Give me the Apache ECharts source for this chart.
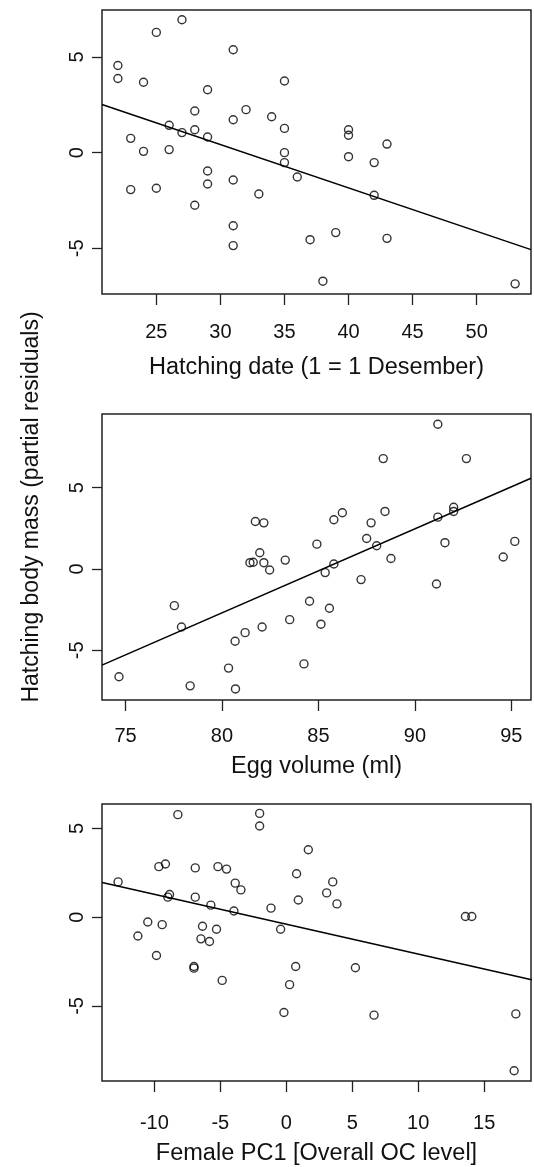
<!DOCTYPE html>
<html><head><meta charset="utf-8">
<script src="https://cdn.jsdelivr.net/npm/echarts@6/dist/echarts.min.js"></script>
<style>html,body{margin:0;padding:0;background:#fff}#c{width:534px;height:1167px}</style>
</head><body><div id="c"></div>
<script>
// Panel 1: hatching date
const dateX = [22,22,25,27,31,24,35,29,28,32,34,31,26,27,28,29,35,40,40,23,24,26,35,35,40,43,42,29,29,31,36,23,25,33,42,28,31,31,37,39,43,38,53];
const dateY = [4.56,3.88,6.29,6.95,5.38,3.68,3.75,3.29,2.18,2.25,1.88,1.72,1.43,1.05,1.2,0.82,1.27,1.2,0.91,0.75,0.07,0.16,0.0,-0.52,-0.21,0.45,-0.52,-0.96,-1.64,-1.43,-1.27,-1.93,-1.86,-2.16,-2.23,-2.75,-3.82,-4.86,-4.55,-4.18,-4.48,-6.72,-6.86];
const dateLineX = [20.76, 54.24];
const dateLineY = [2.52, -5.07];
const dateTicks = [25,30,35,40,45,50];

// Panel 2: egg volume
const eggX = [91.19,88.36,92.67,81.73,82.17,85.8,86.24,87.73,88.45,91.19,92.01,92.01,84.92,87.5,88.02,91.56,95.18,94.58,88.76,81.96,81.45,81.62,82.17,83.28,82.47,85.8,85.35,87.21,91.12,84.54,85.57,77.53,77.9,82.08,83.51,85.13,81.2,80.68,80.34,84.25,74.66,78.35,80.7];
const eggY = [8.9,6.79,6.79,2.92,2.84,3.03,3.46,2.84,3.54,3.19,3.8,3.54,1.53,1.88,1.43,1.62,1.7,0.74,0.65,1.0,0.39,0.42,0.39,0.55,-0.06,0.31,-0.22,-0.65,-0.92,-1.98,-2.41,-2.25,-3.56,-3.56,-3.11,-3.39,-3.91,-4.44,-6.09,-5.83,-6.62,-7.18,-7.37];
const eggLineX = [73.78, 96.02];
const eggLineY = [-5.91, 5.58];
const eggTicks = [75,80,85,90,95];

// Panel 3: female PC1
const pcX = [-12.75,-8.22,-2.02,-2.02,1.67,-9.66,-9.16,-6.9,-5.18,-4.53,0.78,-3.87,-3.44,3.52,3.06,3.84,0.91,-8.85,-8.98,-6.9,-5.72,-3.97,-1.16,13.58,14.06,-10.5,-9.41,-6.35,-5.29,-0.43,-11.25,-6.47,-5.82,-9.84,-7.0,-7.0,0.71,5.24,-4.86,0.25,-0.18,6.65,17.4,17.27];
const pcY = [1.99,5.78,5.85,5.14,3.8,2.85,3.0,2.78,2.85,2.71,2.45,1.92,1.54,1.99,1.37,0.75,0.97,1.28,1.13,1.13,0.68,0.35,0.51,0.04,0.04,-0.27,-0.42,-0.51,-0.68,-0.68,-1.06,-1.22,-1.37,-2.16,-2.78,-2.87,-2.78,-2.85,-3.56,-3.8,-5.37,-5.52,-5.45,-8.65];
const pcLineX = [-13.96, 18.6];
const pcLineY = [1.96, -3.53];
const pcTicks = [-10,-5,0,5,10,15];

const yTicks = [-5,0,5];

const FONT = "'Liberation Sans', Arial, Helvetica, sans-serif";
const zip = (a,b) => a.map((v,i)=>[v,b[i]]);

const panels = [
  {top:10, height:284, xr:[20.76,54.24], yr:[-7.39,7.46], xt:dateTicks, name:'Hatching date (1 = 1 Desember)', margin:28, gap:62, px:dateX, py:dateY, lx:dateLineX, ly:dateLineY},
  {top:414, height:286, xr:[73.78,96.02], yr:[-8.05,9.53], xt:eggTicks, name:'Egg volume (ml)', margin:26, gap:55, px:eggX, py:eggY, lx:eggLineX, ly:eggLineY},
  {top:804, height:284, xr:[-13.97,18.55], yr:[-9.23,6.38], xt:pcTicks, name:'Female PC1 [Overall OC level]', margin:32, gap:61, px:pcX, py:pcY, lx:pcLineX, ly:pcLineY}
];

const grid=[], xAxis=[], yAxis=[], series=[];
panels.forEach((p,i)=>{
  grid.push({left:102, width:429, top:p.top, height:p.height, show:true, borderColor:'#222', borderWidth:1.5, backgroundColor:'transparent'});
  xAxis.push({type:'value', gridIndex:i, min:p.xr[0], max:p.xr[1], position:'bottom',
    axisLine:{show:false, onZero:false}, splitLine:{show:false},
    axisTick:{show:true, inside:false, length:11, customValues:p.xt, lineStyle:{color:'#222', width:1.3}},
    axisLabel:{show:true, customValues:p.xt, margin:p.margin, fontSize:20, color:'#111', fontFamily:FONT},
    name:p.name, nameLocation:'middle', nameGap:p.gap, nameTextStyle:{fontSize:23.5, color:'#111', fontFamily:FONT}});
  yAxis.push({type:'value', gridIndex:i, min:p.yr[0], max:p.yr[1], position:'left',
    axisLine:{show:false, onZero:false}, splitLine:{show:false},
    axisTick:{show:true, inside:false, length:10, customValues:yTicks, lineStyle:{color:'#222', width:1.3}},
    axisLabel:{show:true, customValues:yTicks, rotate:90, margin:15, fontSize:20, color:'#111', fontFamily:FONT}});
  series.push({type:'scatter', xAxisIndex:i, yAxisIndex:i, data:zip(p.px,p.py),
    symbol:'circle', symbolSize:8,
    itemStyle:{color:'rgba(0,0,0,0)', borderColor:'#000', borderWidth:1.4}, silent:true});
  series.push({type:'line', xAxisIndex:i, yAxisIndex:i, data:zip(p.lx,p.ly),
    symbol:'none', lineStyle:{color:'#000', width:1.5}, silent:true, clip:true});
});

const chart = echarts.init(document.getElementById('c'), null, {renderer:'canvas'});
chart.setOption({
  animation:false,
  backgroundColor:'#fff',
  grid, xAxis, yAxis, series,
  graphic:[{type:'text', x:32, y:507, rotation:Math.PI/2,
    style:{text:'Hatching body mass (partial residuals)', fontSize:23, fontFamily:FONT, fill:'#111', textAlign:'center', textVerticalAlign:'middle'}}]
});
</script></body></html>
